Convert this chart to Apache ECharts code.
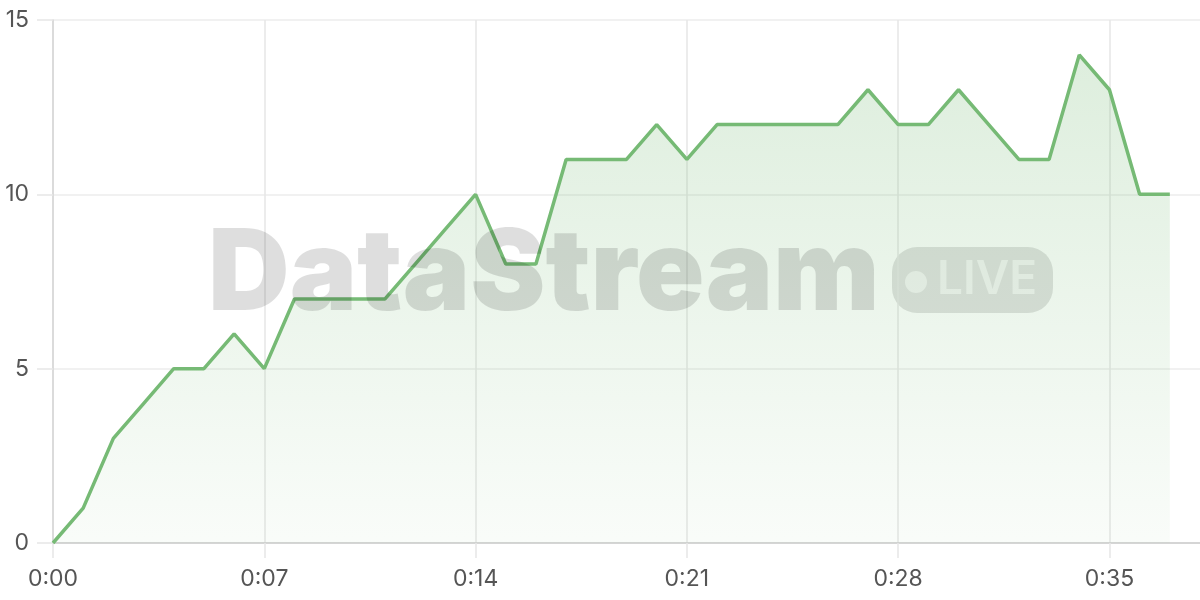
<!DOCTYPE html>
<html>
<head>
<meta charset="utf-8">
<script src="https://cdn.jsdelivr.net/npm/echarts@6/dist/echarts.min.js"></script>
<style>
  html, body { margin: 0; padding: 0; background: #fff; }
  #main { width: 1200px; height: 600px; }
</style>
</head>
<body>
<div id="main"></div>
<script>
// one reading per second, 0:00 .. 0:37 (axis runs one more slot to 0:38)
var seconds = [];
for (var s = 0; s <= 38; s++) {
  seconds.push('0:' + (s < 10 ? '0' + s : s));
}
var counts = [0, 1, 3, 4, 5, 5, 6, 5, 7, 7, 7, 7, 8, 9, 10, 8, 8, 11, 11, 11,
              12, 11, 12, 12, 12, 12, 12, 13, 12, 12, 13, 12, 11, 11, 14, 13, 10, 10];
var yTicks = [0, 5, 10, 15];

var chart = echarts.init(document.getElementById('main'));

var option = {
  backgroundColor: '#ffffff',
  animation: false,
  grid: { left: 53, right: 0, top: 20, bottom: 57, containLabel: false },
  xAxis: {
    type: 'category',
    data: seconds,
    boundaryGap: false,
    axisLine: { lineStyle: { color: '#cccccc', width: 1.5 } },
    axisTick: { show: true, interval: 6, length: 15, lineStyle: { color: '#e6e6e6', width: 1.5 } },
    axisLabel: {
      interval: 6,
      color: '#555555',
      fontSize: 23,
      fontFamily: 'Inter',
      margin: 25
    },
    splitLine: { show: true, interval: 6, lineStyle: { color: '#e6e6e6', width: 1.5 } }
  },
  yAxis: {
    type: 'value',
    min: yTicks[0],
    max: yTicks[yTicks.length - 1],
    interval: 5,
    axisLine: { show: true, lineStyle: { color: '#d6d6d6', width: 1.5 } },
    axisTick: { show: true, length: 16, lineStyle: { color: '#e6e6e6', width: 1.5 } },
    axisLabel: { color: '#555555', fontSize: 23, fontFamily: 'Inter', margin: 24 },
    splitLine: { lineStyle: { color: '#ececec', width: 1.5 } }
  },
  graphic: [
    {
      type: 'text',
      left: 208,
      top: 220,
      z: 100,
      style: {
        text: 'DataStream',
        font: '900 113px Inter',
        fill: 'rgba(0,0,0,0.13)'
      }
    },
    {
      type: 'group',
      left: 892,
      top: 247,
      z: 100,
      children: [
        {
          type: 'rect',
          shape: { x: 0, y: 0, width: 161, height: 66, r: 25 },
          style: { fill: 'rgba(0,0,0,0.12)' }
        },
        {
          type: 'circle',
          shape: { cx: 24, cy: 35, r: 11 },
          style: { fill: 'rgba(255,255,255,0.6)' }
        },
        {
          type: 'text',
          x: 45,
          y: 10,
          style: {
            text: 'LIVE',
            font: '600 46px Inter',
            fill: 'rgba(255,255,255,0.6)'
          }
        }
      ]
    }
  ],
  series: [
    {
      type: 'line',
      data: counts,
      showSymbol: false,
      lineStyle: { color: '#76ba75', width: 3.5 },
      itemStyle: { color: '#76ba75' },
      areaStyle: {
        color: new echarts.graphic.LinearGradient(0, 0, 0, 1, [
          { offset: 0, color: 'rgba(118,186,117,0.35)' },
          { offset: 1, color: 'rgba(118,186,117,0.06)' }
        ])
      }
    }
  ]
};

chart.setOption(option);
</script>
</body>
</html>
